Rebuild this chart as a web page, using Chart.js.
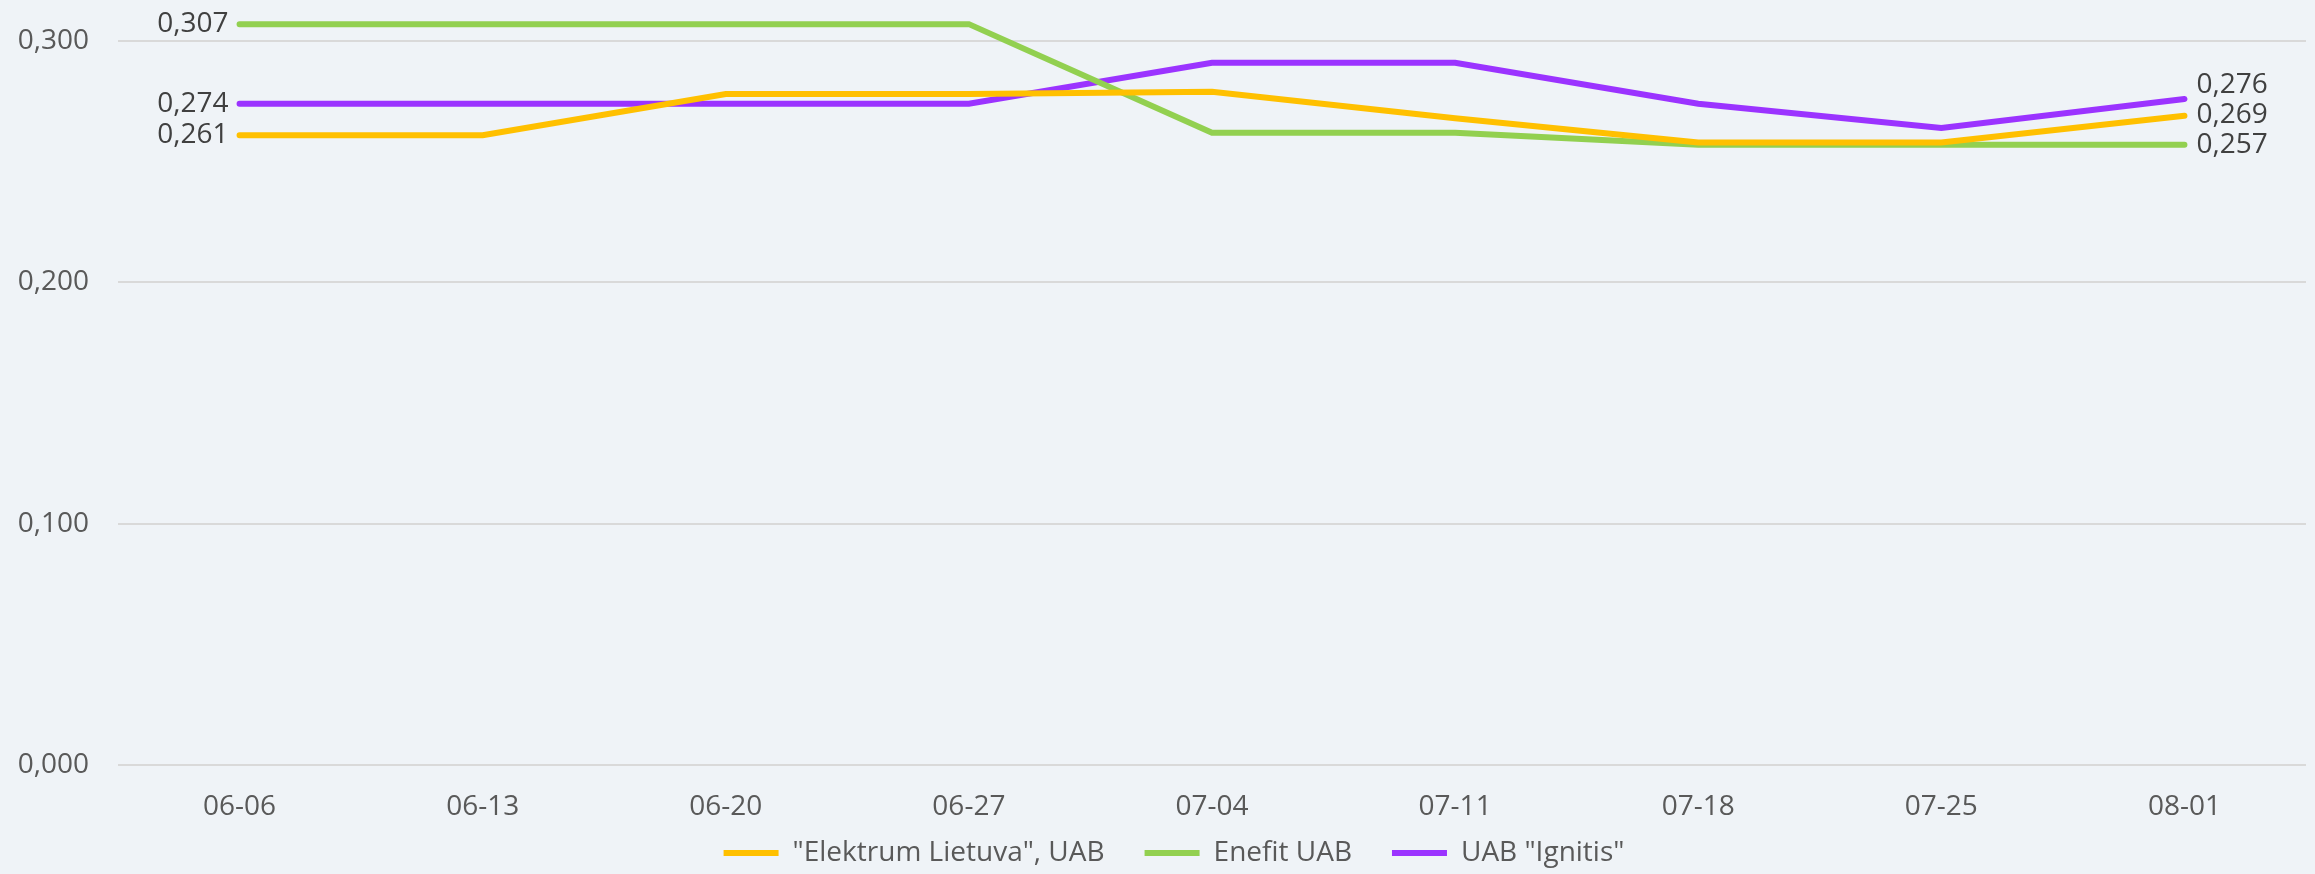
<!DOCTYPE html>
<html>
<head>
<meta charset="utf-8">
<script src="https://cdn.jsdelivr.net/npm/chart.js@4"></script>
<style>
  html, body { margin: 0; padding: 0; background: #EFF3F7; }
  #wrap { width: 2315px; height: 874px; }
</style>
</head>
<body>
<div id="wrap"><canvas id="price-chart"></canvas></div>
<script>
const weeks = ['06-06', '06-13', '06-20', '06-27', '07-04', '07-11', '07-18', '07-25', '08-01'];
const seriesNames = ['"Elektrum Lietuva", UAB', 'Enefit UAB', 'UAB "Ignitis"'];
const elektrum = [0.261, 0.261, 0.278, 0.278, 0.279, 0.268, 0.258, 0.258, 0.269];
const enefit = [0.307, 0.307, 0.307, 0.307, 0.262, 0.262, 0.257, 0.257, 0.257];
const ignitis = [0.274, 0.274, 0.274, 0.274, 0.291, 0.291, 0.274, 0.264, 0.276];
const colors = ['#FFC000', '#92D050', '#9B33FF'];

const fmt = v => v.toFixed(3).replace('.', ',');

// labels on first and last point of each line, pushed apart when they collide
const endLabels = {
  id: 'endLabels',
  afterDatasetsDraw(chart) {
    const ctx = chart.ctx;
    ctx.save();
    ctx.font = '28px "Open Sans"';
    ctx.fillStyle = '#404040';
    ctx.textBaseline = 'middle';
    [0, weeks.length - 1].forEach(idx => {
      const items = chart.data.datasets.map((ds, i) => {
        const pt = chart.getDatasetMeta(i).data[idx];
        return { x: pt.x, y: pt.y, text: fmt(ds.data[idx]) };
      }).sort((a, b) => b.y - a.y);
      for (let k = 1; k < items.length; k++) {
        if (items[k - 1].y - items[k].y < 30) items[k].y = items[k - 1].y - 30;
      }
      items.forEach(it => {
        if (idx === 0) {
          ctx.textAlign = 'right';
          ctx.fillText(it.text, it.x - 11, it.y);
        } else {
          ctx.textAlign = 'left';
          ctx.fillText(it.text, it.x + 12, it.y);
        }
      });
    });
    ctx.restore();
  }
};

// keep the wide gaps between legend items but a short legend box
const legendHeight = {
  id: 'legendHeight',
  afterInit(chart) {
    const legend = chart.legend;
    const fit = legend.fit.bind(legend);
    legend.fit = function () {
      fit();
      this.height = 47;
    };
  },
  afterLayout(chart) {
    // move the legend row up (and a bit right) without clipping it
    chart.legend.top -= 28;
    chart.legend.left += 21;
    chart.legend.right += 21;
  }
};

const data = [elektrum, enefit, ignitis];

new Chart(document.getElementById('price-chart'), {
  type: 'line',
  plugins: [endLabels, legendHeight],
  data: {
    labels: weeks,
    datasets: seriesNames.map((name, i) => ({
      label: name,
      data: data[i],
      borderColor: colors[i],
      backgroundColor: colors[i],
      borderWidth: 6,
      borderCapStyle: 'round',
      pointRadius: 0,
      tension: 0
    }))
  },
  options: {
    responsive: true,
    maintainAspectRatio: false,
    animation: false,
    layout: { padding: { left: 0, right: 9, top: 0, bottom: 0 } },
    scales: {
      x: {
        offset: true,
        afterFit: scale => { scale.height = 62; },
        grid: { display: false },
        border: { display: false },
        ticks: { color: '#595959', font: { family: 'Open Sans', size: 28 }, padding: 17, maxRotation: 0 }
      },
      y: {
        min: 0,
        max: 0.317,
        afterFit: scale => {
          scale.width = 118;
          scale.paddingTop = 0;
          scale.paddingBottom = 0;
        },
        grid: { color: '#D9D9D9', lineWidth: 2, drawTicks: false },
        border: { display: false },
        ticks: {
          stepSize: 0.1,
          includeBounds: false,
          padding: 29,
          color: '#595959',
          font: { family: 'Open Sans', size: 28 },
          callback: v => fmt(v)
        }
      }
    },
    plugins: {
      legend: {
        position: 'bottom',
        labels: {
          usePointStyle: true,
          pointStyle: 'line',
          pointStyleWidth: 55,
          padding: 40,
          color: '#595959',
          font: { family: 'Open Sans', size: 28 }
        }
      },
      tooltip: { enabled: false }
    }
  }
});
</script>
</body>
</html>
